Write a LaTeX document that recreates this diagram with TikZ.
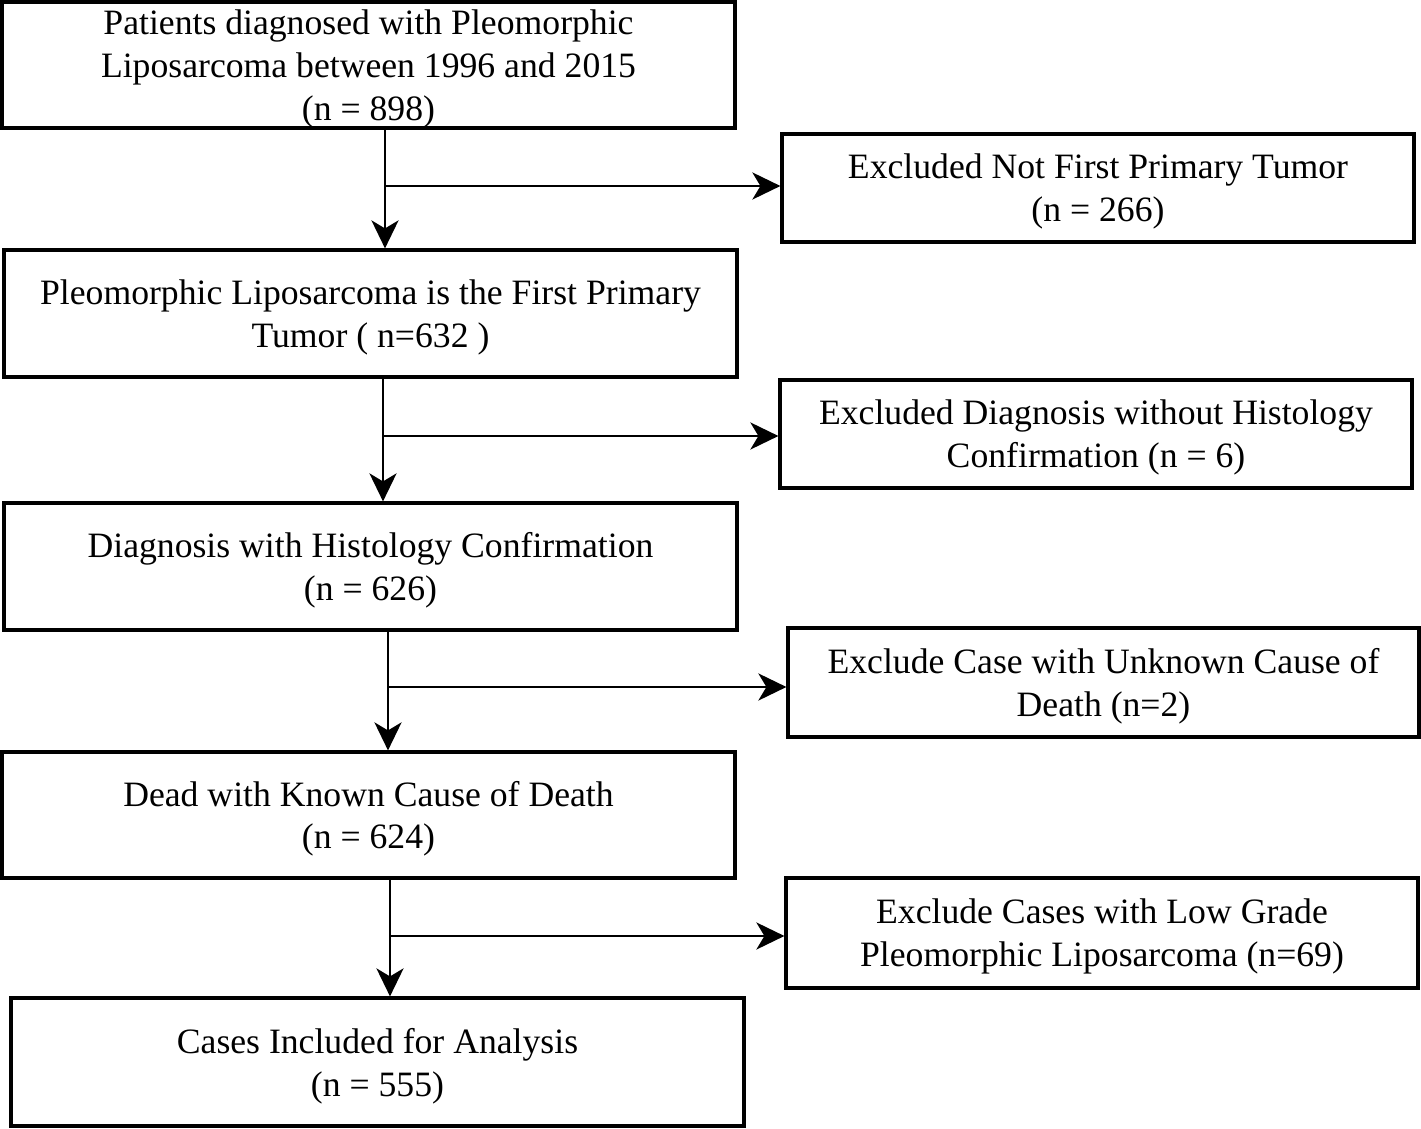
\documentclass[tikz,border=0pt]{standalone}
\usepackage{fontspec}
\setmainfont{Liberation Serif}
\usetikzlibrary{arrows.meta}

\begin{document}
\begin{tikzpicture}[
    box/.style={rectangle, draw=black, line width=1.8pt, align=center, inner sep=0pt,
        font=\fontsize{20.3}{24.4}\selectfont, text depth=-6pt},
    arr/.style={-{Stealth[length=0.56cm, width=0.54cm, inset=0.16cm]}, line width=1.7pt}
]
            \useasboundingbox (0,0) rectangle (28.42,-22.58);

            % Main path
            \node[box, minimum width=14.66cm, minimum height=2.52cm] (patients) at (7.37,-1.3)
                {Patients diagnosed with Pleomorphic\\Liposarcoma between 1996 and 2015\\(n = 898)};
            \node[box, minimum width=14.66cm, minimum height=2.54cm] (first) at (7.41,-6.27)
                {Pleomorphic Liposarcoma is the First Primary\\Tumor ( n=632 )};
            \node[box, minimum width=14.66cm, minimum height=2.54cm] (histology) at (7.41,-11.33)
                {Diagnosis with Histology Confirmation\\(n = 626)};
            \node[box, minimum width=14.66cm, minimum height=2.52cm] (dead) at (7.37,-16.3)
                {Dead with Known Cause of Death\\(n = 624)};
            \node[box, minimum width=14.66cm, minimum height=2.56cm] (included) at (7.55,-21.24)
                {Cases Included for Analysis\\(n = 555)};

            % Exclusions
            \node[box, minimum width=12.64cm, minimum height=2.16cm] (exfirst) at (21.96,-3.76)
                {Excluded Not First Primary Tumor\\(n = 266)};
            \node[box, minimum width=12.64cm, minimum height=2.16cm] (exhisto) at (21.92,-8.68)
                {Excluded Diagnosis without Histology\\Confirmation (n = 6)};
            \node[box, minimum width=12.62cm, minimum height=2.18cm] (excause) at (22.07,-13.65)
                {Exclude Case with Unknown Cause of\\Death (n=2)};
            \node[box, minimum width=12.64cm, minimum height=2.2cm] (exgrade) at (22.04,-18.66)
                {Exclude Cases with Low Grade\\Pleomorphic Liposarcoma (n=69)};

            % Branch points
            \coordinate (split1) at (7.70,-3.72);
            \coordinate (split2) at (7.66,-8.72);
            \coordinate (split3) at (7.76,-13.74);
            \coordinate (split4) at (7.80,-18.72);

            \draw[arr] (patients.south -| split1) -- (first.north -| split1);
            \draw[arr] (split1) -- (split1 -| exfirst.west);
            \draw[arr] (first.south -| split2) -- (histology.north -| split2);
            \draw[arr] (split2) -- (split2 -| exhisto.west);
            \draw[arr] (histology.south -| split3) -- (dead.north -| split3);
            \draw[arr] (split3) -- (split3 -| excause.west);
            \draw[arr] (dead.south -| split4) -- (included.north -| split4);
            \draw[arr] (split4) -- (split4 -| exgrade.west);
        \end{tikzpicture}
\end{document}
